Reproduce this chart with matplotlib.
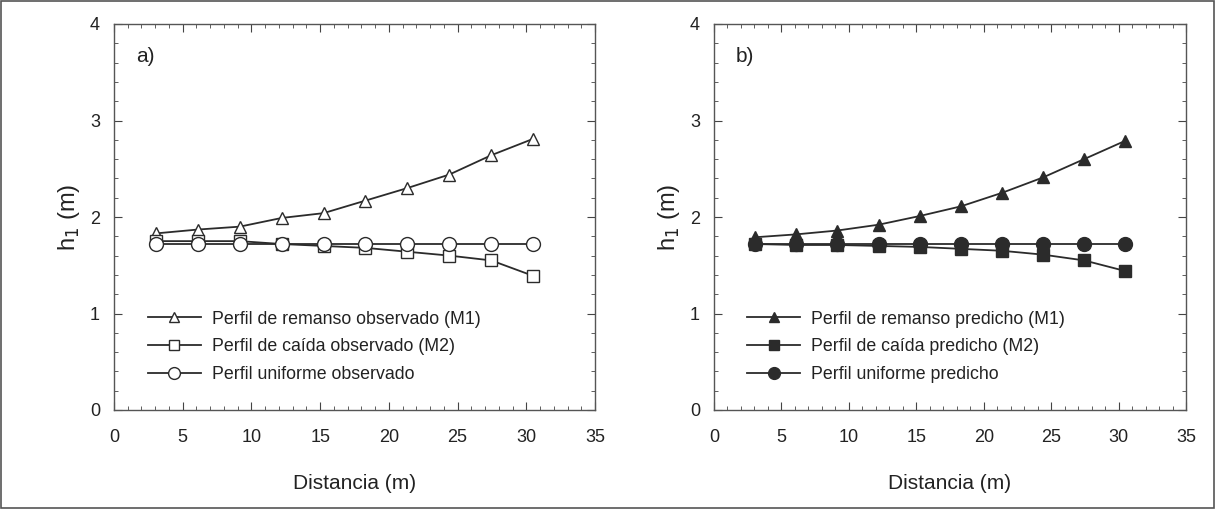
import numpy as np
import matplotlib.pyplot as plt
from matplotlib.ticker import MultipleLocator

plt.rcParams['font.family'] = ['Liberation Sans', 'DejaVu Sans']

# distancia (m)
dist = [3.05, 6.1, 9.15, 12.2, 15.25, 18.3, 21.35, 24.4, 27.45, 30.5]

# a) observado
m1_obs = [1.83, 1.87, 1.90, 1.99, 2.04, 2.17, 2.30, 2.44, 2.64, 2.81]
m2_obs = [1.75, 1.75, 1.75, 1.72, 1.70, 1.68, 1.64, 1.60, 1.55, 1.39]
uni_obs = [1.72, 1.72, 1.72, 1.72, 1.72, 1.72, 1.72, 1.72, 1.72, 1.72]

# b) predicho
m1_pred = [1.79, 1.82, 1.86, 1.92, 2.01, 2.11, 2.25, 2.41, 2.60, 2.79]
m2_pred = [1.72, 1.71, 1.71, 1.70, 1.69, 1.67, 1.65, 1.61, 1.55, 1.44]
uni_pred = [1.72, 1.72, 1.72, 1.72, 1.72, 1.72, 1.72, 1.72, 1.72, 1.72]

labels_obs = ['Perfil de remanso observado (M1)', 'Perfil de caída observado (M2)',
              'Perfil uniforme observado']
labels_pred = ['Perfil de remanso predicho (M1)', 'Perfil de caída predicho (M2)',
               'Perfil uniforme predicho']

lc = '#2b2b2b'
fig = plt.figure(figsize=(12.16, 5.09), dpi=100)
fig.patches.append(plt.Rectangle((0.001, 0.001), 0.997, 0.997, transform=fig.transFigure,
                                 fill=False, edgecolor='#555555', lw=1.2))

ax1 = fig.add_axes([114/1216, 1-410/509, 481/1216, 386/509])
ax2 = fig.add_axes([714/1216, 1-410/509, 472/1216, 386/509])


def panel(ax, series, labels, filled, tag):
    markers = ['^', 's', 'o']
    sizes = [9, 8, 10]
    for y, lab, mk, ms in zip(series, labels, markers, sizes):
        ax.plot(dist, y, color=lc, lw=1.3, marker=mk, ms=ms,
                mfc=lc if filled else 'white', mec=lc, mew=1.0, label=lab)
    ax.set_xlim(0, 35)
    ax.set_ylim(0, 4)
    ax.xaxis.set_major_locator(MultipleLocator(5))
    ax.xaxis.set_minor_locator(MultipleLocator(1))
    ax.yaxis.set_major_locator(MultipleLocator(1))
    ax.yaxis.set_minor_locator(MultipleLocator(0.2))
    ax.tick_params(which='both', direction='in', top=True, right=True, colors='#444444',
                   labelcolor='#222222', labelsize=13)
    ax.tick_params(axis='x', pad=14)
    ax.tick_params(axis='y', pad=10)
    ax.tick_params(which='major', length=6)
    ax.tick_params(which='minor', length=3)
    for s in ax.spines.values():
        s.set_color('#555555')
        s.set_linewidth(1.0)
    ax.set_xlabel('Distancia (m)', fontsize=15, color='#222222', labelpad=20)
    ax.set_ylabel('h$_1$ (m)', fontsize=17, color='#222222', labelpad=6)
    ax.text(0.045, 0.94, tag, transform=ax.transAxes, fontsize=15, va='top', color='#222222')
    ax.legend(loc='lower left', bbox_to_anchor=(0.07, 0.07), frameon=False, fontsize=12.8,
              borderpad=0, borderaxespad=0, markerscale=0.85,
              handlelength=3.0, handletextpad=0.6, labelspacing=0.6, labelcolor='#222222')


panel(ax1, [m1_obs, m2_obs, uni_obs], labels_obs, False, 'a)')
panel(ax2, [m1_pred, m2_pred, uni_pred], labels_pred, True, 'b)')

fig.savefig('out.png', dpi=100)
